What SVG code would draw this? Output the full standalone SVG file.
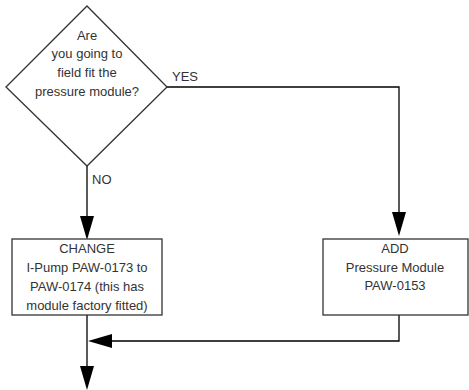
<svg xmlns="http://www.w3.org/2000/svg" width="469" height="390" viewBox="0 0 469 390">
<defs>
<style>
.shape{fill:#fff;stroke:#333;stroke-width:1.3}
.line{fill:none;stroke:#000;stroke-width:1.3}
.head{fill:#000;stroke:none}
text{font-family:"Liberation Sans",Arial,sans-serif;font-size:13px;fill:#333;text-anchor:middle}
.lbl{text-anchor:start}
</style>
</defs>
<rect width="469" height="390" fill="#fff"/>
<g id="connectors">
<polyline class="line" points="167,87 399,87 399,213"/>
<polygon class="head" points="392,212 406,212 399,236"/>
<line class="line" x1="87" y1="166" x2="87" y2="217"/>
<polygon class="head" points="80,216 94,216 87,240"/>
<polyline class="line" points="399,315 399,341 110,341"/>
<polygon class="head" points="112,334 112,348 88,341"/>
<line class="line" x1="87" y1="315" x2="87" y2="368"/>
<polygon class="head" points="80,366 94,366 87,390"/>
<text class="lbl" x="172" y="81">YES</text>
<text class="lbl" x="92" y="184">NO</text>
</g>
<g id="decision">
<polygon class="shape" points="87,6 167,87 87,166 6,87"/>
<text x="87" y="40">Are</text>
<text x="87" y="58">you going to</text>
<text x="87" y="77">field fit the</text>
<text x="87" y="96">pressure module?</text>
</g>
<g id="change">
<rect class="shape" x="12" y="239" width="150" height="76"/>
<text x="87" y="253">CHANGE</text>
<text x="87" y="272">I-Pump PAW-0173 to</text>
<text x="87" y="291">PAW-0174 (this has</text>
<text x="87" y="310">module factory fitted)</text>
</g>
<g id="add">
<rect class="shape" x="323" y="239" width="145" height="76"/>
<text x="395" y="253">ADD</text>
<text x="395" y="271.5">Pressure Module</text>
<text x="395" y="290">PAW-0153</text>
</g>
</svg>
